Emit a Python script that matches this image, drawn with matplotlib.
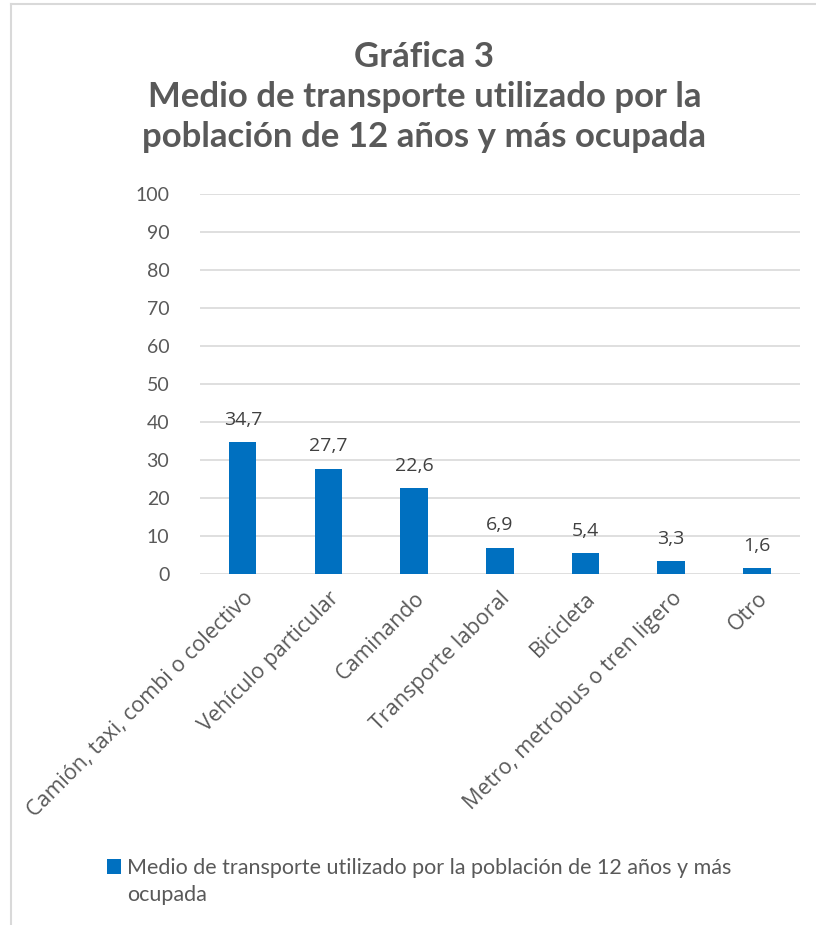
import matplotlib.pyplot as plt

# DATOS
categorias = ['Camión, taxi, combi o colectivo', 'Vehículo particular', 'Caminando',
              'Transporte laboral', 'Bicicleta', 'Metro, metrobus o tren ligero', 'Otro']
valores = [34.7, 27.7, 22.6, 6.9, 5.4, 3.3, 1.6]
yticks = [0, 10, 20, 30, 40, 50, 60, 70, 80, 90, 100]
titulo = 'Gráfica 3\nMedio de transporte utilizado por la\npoblación de 12 años y más ocupada'
serie = 'Medio de transporte utilizado por la población de 12 años y más\nocupada'

plt.rcParams['font.family'] = ['Lato', 'DejaVu Sans']

fig = plt.figure(figsize=(8.16, 9.25), dpi=100)
ax = fig.add_axes([0.245, 0.3795, 0.735, 0.4105])

x = range(len(categorias))
ax.bar(x, valores, width=0.32, color='#0070C0', zorder=3, label=serie)

# ETIQUETAS DE DATOS
for xi, v in zip(x, valores):
    ax.text(xi, v + 3.5, f'{v:.1f}'.replace('.', ','), ha='center', va='bottom',
            fontsize=14, color='#404040', family=['Open Sans', 'DejaVu Sans'])

ax.set_ylim(0, 100)
ax.set_xlim(-0.5, len(categorias) - 0.5)
ax.set_yticks(yticks)
ax.set_xticks(list(x))
ax.set_xticklabels(categorias, rotation=45, ha='right', rotation_mode='anchor',
                   family=['Open Sans', 'DejaVu Sans'], fontsize=15.5)
ax.tick_params(axis='both', length=0, labelcolor='#595959')
ax.tick_params(axis='y', pad=22, labelsize=14)
ax.tick_params(axis='x', pad=10)
ax.grid(axis='y', color='#d9d9d9', linewidth=1.2, zorder=0)
for s in ax.spines.values():
    s.set_visible(False)

fig.text(0.52, 0.956, titulo, ha='center', va='top', fontsize=25, fontweight='bold',
         color='#595959', linespacing=1.32)

leg = fig.legend(loc='upper left', bbox_to_anchor=(0.12, 0.082), frameon=False,
                 fontsize=15.5, labelcolor='#595959', handlelength=0.65, handleheight=0.65,
                 handletextpad=0.3, borderaxespad=0)
for t in leg.get_texts():
    t.set_linespacing(1.45)
# EL CUADRO DE LA LEYENDA A LA ALTURA DE LA PRIMERA LINEA
h = leg.legend_handles[0]
h.set_y(h.get_y() + 11)

# MARCO
fig.add_artist(plt.Line2D([0.0135, 0.0135], [0, 0.996], color='#d9d9d9', lw=1.5))
fig.add_artist(plt.Line2D([0.0135, 1.0], [0.996, 0.996], color='#d9d9d9', lw=1.5))

fig.savefig('out.png', dpi=100)
